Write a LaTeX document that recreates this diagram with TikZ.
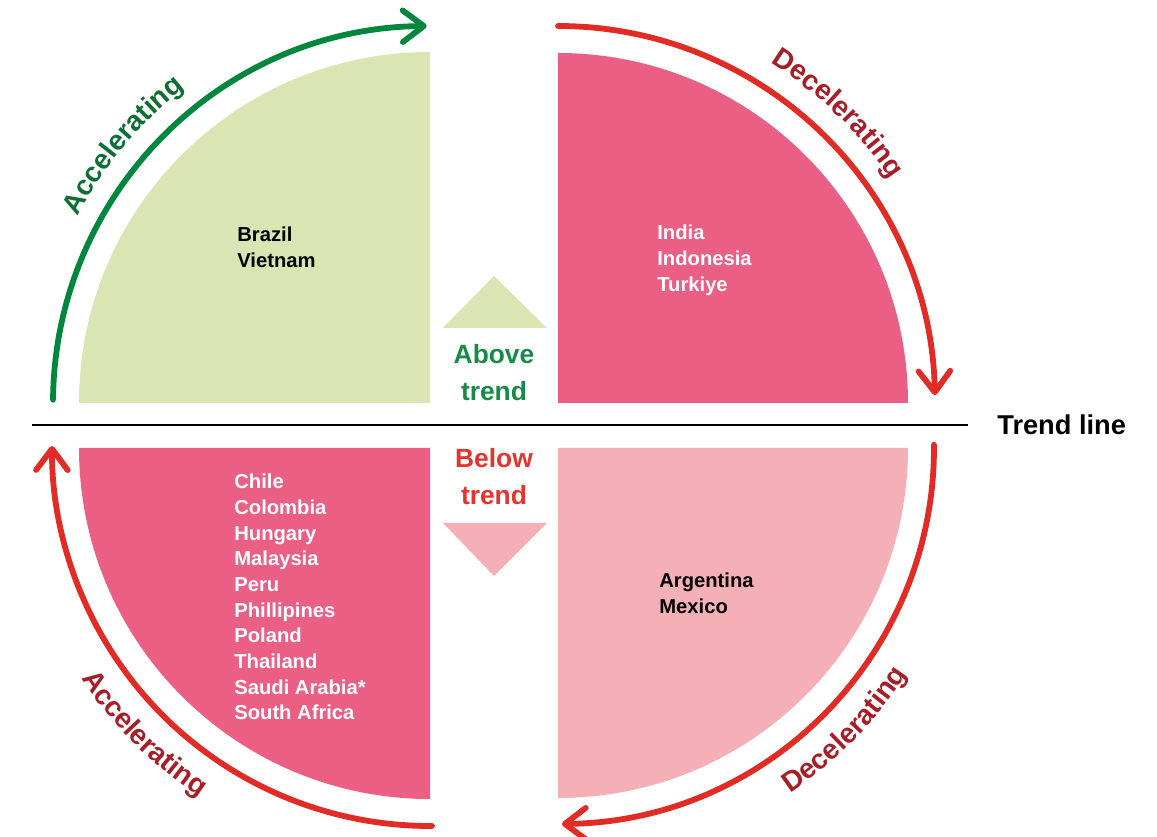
\documentclass[tikz,border=0pt]{standalone}
\usepackage{fontspec}
\setmainfont{Liberation Sans}
\usetikzlibrary{arrows.meta,decorations.text}

\definecolor{lgreen}{HTML}{D9E5B2}
\definecolor{qpink}{HTML}{EC5F84}
\definecolor{lpink}{HTML}{F5B0B7}
\definecolor{agreen}{HTML}{00873E}
\definecolor{dgreen}{HTML}{0F6E34}
\definecolor{ared}{HTML}{E32B25}
\definecolor{dred}{HTML}{A81E28}
\definecolor{tgreen}{HTML}{168A46}
\definecolor{tred}{HTML}{E5332D}

\begin{document}
\begin{tikzpicture}[x=0.02cm,y=0.02cm,
  arcline/.style={line width=3.3pt, line cap=round, -{Straight Barb[length=12pt,width=18pt,round]}},
  countries/.style={font=\fontsize{11.5}{14.6}\selectfont\bfseries, align=left, anchor=north west, inner sep=0pt},
  trendtext/.style={font=\fontsize{15}{21}\selectfont\bfseries, align=center, inner sep=0pt}
]
\useasboundingbox (0,0) rectangle (1157,-837);

% centres of the quarters
\coordinate (c1) at (430,-403);
\coordinate (c2) at (558,-403);
\coordinate (c3) at (430,-448);
\coordinate (c4) at (558,-448);

% quarter discs
\fill[lgreen] (c1) -- ++(-351,0) arc[start angle=180, end angle=90, radius=351] -- cycle;
\fill[qpink] (c2) -- ++(350,0) arc[start angle=0, end angle=90, radius=350] -- cycle;
\fill[qpink] (c3) -- ++(-351,0) arc[start angle=180, end angle=270, radius=351] -- cycle;
\fill[lpink] (c4) -- ++(350,0) arc[start angle=0, end angle=-90, radius=350] -- cycle;

% triangles
\fill[lgreen] (443,-328) -- (547,-328) -- (494,-276) -- cycle;
\fill[lpink] (443,-523) -- (547,-523) -- (494,-576) -- cycle;

% trend line
\coordinate (tl1) at (32,-425);
\coordinate (tl2) at (968,-425);
\draw[line width=1.6pt] (tl1) -- (tl2);
\node[anchor=west, inner sep=0pt, font=\fontsize{15.5}{18}\selectfont\bfseries] (trend) at (997,-425) {Trend line};

% arcs
\draw[arcline, agreen] (c1) ++(179.5:377) arc[start angle=179.5, end angle=90.5, radius=377];
\draw[arcline, ared] (c2) ++(90:377) arc[start angle=90, end angle=1.2, radius=377];
\draw[arcline, ared] (c4) ++(0.5:376) arc[start angle=0.5, end angle=-89.4, radius=376];
\draw[arcline, ared] (c3) ++(270.3:378) arc[start angle=270.3, end angle=179.7, radius=378];

% arc labels
\path[decorate, decoration={text along path, text align=center, text color=dgreen,
  text={|\fontsize{16}{16}\selectfont\bfseries|Accelerating}}]
  (c1) ++(185:399) arc[start angle=185, end angle=95, radius=399];
\path[decorate, decoration={text along path, text align=center, text color=dred,
  text={|\fontsize{16}{16}\selectfont\bfseries|Decelerating}}]
  (c2) ++(91:401) arc[start angle=91, end angle=1, radius=401];
\path[decorate, decoration={text along path, text align=center, text color=dred,
  text={|\fontsize{16}{16}\selectfont\bfseries|Decelerating}}]
  (c4) ++(-89.5:416) arc[start angle=-89.5, end angle=0.5, radius=416];
\path[decorate, decoration={text along path, text align=center, text color=dred,
  text={|\fontsize{16}{16}\selectfont\bfseries|Accelerating}}]
  (c3) ++(180:418) arc[start angle=180, end angle=270, radius=418];

% country lists
\node[countries, text=black] (q1) at (237,-227) {Brazil\\Vietnam};
\node[countries, text=white] (q2) at (657,-225) {India\\Indonesia\\Turkiye};
\node[countries, text=white] (q3) at (234,-474) {Chile\\Colombia\\Hungary\\Malaysia\\Peru\\Phillipines\\Poland\\Thailand\\Saudi Arabia*\\South Africa};
\node[countries, text=black] (q4) at (659,-573) {Argentina\\Mexico};

% above / below
\node[trendtext, text=tgreen] (above) at (494,-373) {Above\\trend};
\node[trendtext, text=tred] (below) at (494,-477) {Below\\trend};
\end{tikzpicture}
\end{document}
